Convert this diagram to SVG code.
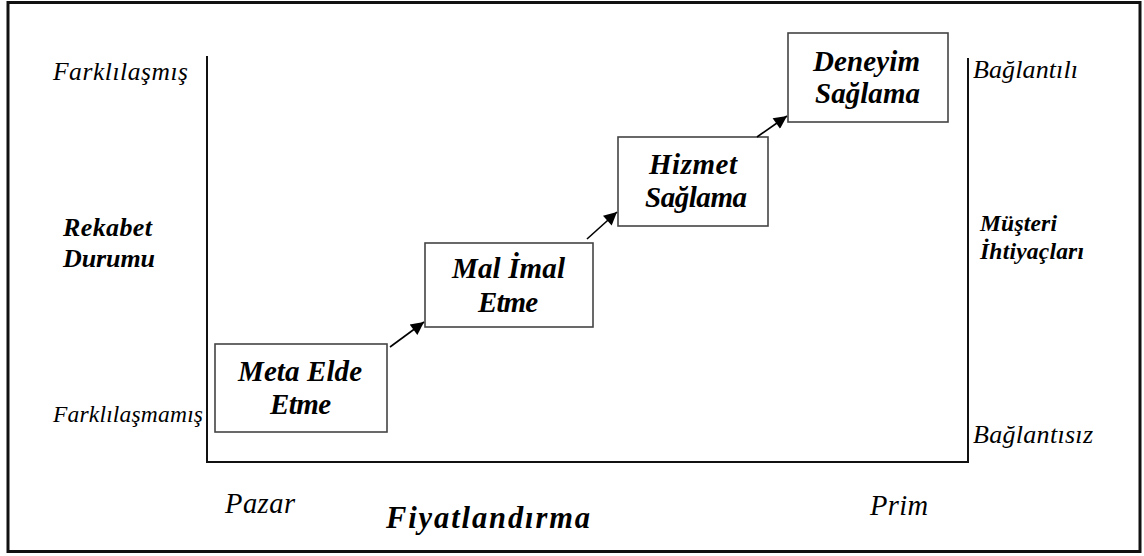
<svg xmlns="http://www.w3.org/2000/svg" width="1144" height="556" viewBox="0 0 1144 556">
  <style>
    .lbl { font-family: "Liberation Serif", "Times New Roman", serif; font-style: italic; fill: #000; }
    .b { font-weight: bold; }
    .box { fill: #fff; stroke: #444; stroke-width: 1.6; }
    .axis { fill: none; stroke: #111; stroke-width: 2; }
    .conn { stroke: #000; stroke-width: 1.6; fill: none; marker-end: url(#arrow); }
  </style>
  <defs>
    <marker id="arrow" viewBox="0 0 10 10" refX="10" refY="5" markerWidth="16" markerHeight="13" markerUnits="userSpaceOnUse" orient="auto">
      <path d="M0,0 L10,5 L0,10 Z" fill="#000"/>
    </marker>
  </defs>

  <!-- outer frame -->
  <rect x="8" y="2.5" width="1132" height="549" fill="#fff" stroke="#111" stroke-width="3"/>

  <!-- axes -->
  <g id="axes">
    <polyline class="axis" points="207,56 207,462 968,462 968,58"/>
  </g>

  <!-- axis labels -->
  <g id="labels">
    <text class="lbl" x="53" y="80" font-size="25.5" textLength="135" lengthAdjust="spacing">Farklılaşmış</text>
    <text class="lbl b" x="63" y="236" font-size="26" textLength="89" lengthAdjust="spacing">Rekabet</text>
    <text class="lbl b" x="63" y="267" font-size="26" textLength="92" lengthAdjust="spacing">Durumu</text>
    <text class="lbl" x="53" y="422" font-size="23.5" textLength="150" lengthAdjust="spacing">Farklılaşmamış</text>
    <text class="lbl" x="225" y="513" font-size="28.5" textLength="70" lengthAdjust="spacing">Pazar</text>
    <text class="lbl b" x="386" y="528" font-size="30.5" textLength="204" lengthAdjust="spacing">Fiyatlandırma</text>
    <text class="lbl" x="870" y="515" font-size="28.5" textLength="58" lengthAdjust="spacing">Prim</text>
    <text class="lbl" x="973" y="78" font-size="26" textLength="105" lengthAdjust="spacing">Bağlantılı</text>
    <text class="lbl b" x="980" y="231" font-size="23.5" textLength="77" lengthAdjust="spacing">Müşteri</text>
    <text class="lbl b" x="980" y="259" font-size="23.5" textLength="104" lengthAdjust="spacing">İhtiyaçları</text>
    <text class="lbl" x="973" y="443" font-size="26" textLength="120" lengthAdjust="spacing">Bağlantısız</text>
  </g>

  <!-- stage nodes -->
  <g id="node-meta">
    <rect class="box" x="215" y="344" width="172" height="88"/>
    <text class="lbl b" x="238" y="381" font-size="29" textLength="124" lengthAdjust="spacing">Meta Elde</text>
    <text class="lbl b" x="270" y="414" font-size="29" textLength="61" lengthAdjust="spacing">Etme</text>
  </g>
  <g id="node-mal">
    <rect class="box" x="425" y="243" width="168" height="84"/>
    <text class="lbl b" x="452" y="278" font-size="29" textLength="113" lengthAdjust="spacing">Mal İmal</text>
    <text class="lbl b" x="478" y="312" font-size="29" textLength="60" lengthAdjust="spacing">Etme</text>
  </g>
  <g id="node-hizmet">
    <rect class="box" x="618" y="137" width="150" height="89"/>
    <text class="lbl b" x="649" y="174" font-size="29" textLength="88" lengthAdjust="spacing">Hizmet</text>
    <text class="lbl b" x="645" y="207" font-size="29" textLength="102" lengthAdjust="spacing">Sağlama</text>
  </g>
  <g id="node-deneyim">
    <rect class="box" x="788" y="33" width="160" height="89"/>
    <text class="lbl b" x="813" y="71" font-size="29" textLength="107" lengthAdjust="spacing">Deneyim</text>
    <text class="lbl b" x="815" y="103" font-size="29" textLength="105" lengthAdjust="spacing">Sağlama</text>
  </g>

  <!-- connectors -->
  <g id="connectors">
    <line class="conn" x1="390" y1="347" x2="424" y2="322"/>
    <line class="conn" x1="587" y1="239" x2="617" y2="212"/>
    <line class="conn" x1="757" y1="137" x2="787" y2="116"/>
  </g>
</svg>
